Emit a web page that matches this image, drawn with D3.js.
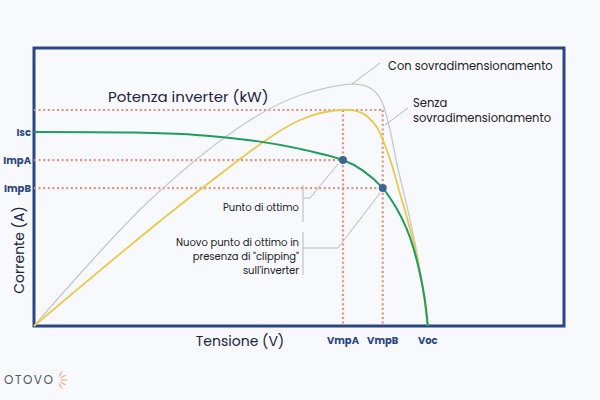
<!DOCTYPE html><html><head><meta charset="utf-8"><script src="https://cdn.jsdelivr.net/npm/d3@7"></script>
<style>body{margin:0;background:#f7f9fc}text{font-family:Poppins,"Open Sans",sans-serif}</style></head><body><svg width="600" height="400"></svg><script>
const greenV=[0,18,30,42,50,58.3,62,65.8,68.5,70.3,71.6,72.8,73.7,74.3];
const greenI=[69.8,69.6,68.8,66.5,63.8,59.7,56,49.6,42,35,28,19,10,0];
const yellowV=[0,31.3,50.2,58.3,62,64.5,66,67.5,69,70.5,72,73.3,74.3];
const yellowI=[0,49,74.1,77.7,76.5,72,66,58,48,38,27,14,0];
const greyV=[0,21.9,40.8,50.2,60,63,65.3,67,68.5,70.5,72.5,73.7,74.3];
const greyI=[0,45.3,74.1,83,87,86,82,72,58,42,24,10,0];
const xTicks=[{l:"VmpA",v:58.3},{l:"VmpB",v:65.8},{l:"Voc",v:74.3}];
const yTicks=[{l:"Isc",v:69.8},{l:"ImpA",v:59.7},{l:"ImpB",v:49.6}];
const Pinv=77.7;
const svg=d3.select("svg");
const x=d3.scaleLinear().domain([0,100]).range([34,564]);
const y=d3.scaleLinear().domain([0,100]).range([326,48]);
const line=d3.line().curve(d3.curveCatmullRom.alpha(0.5));
const pts=(V,I)=>V.map((v,i)=>[x(v),y(I[i])]);
svg.append("rect").attr("x",34).attr("y",48).attr("width",530).attr("height",278).attr("fill","#f7f9fc").attr("stroke","#2b4585").attr("stroke-width",3);
const dot={stroke:"#e8917a","stroke-width":2.2,"stroke-dasharray":"2,2.6"};
function dl(x1,y1,x2,y2){const l=svg.append("line").attr("x1",x1).attr("y1",y1).attr("x2",x2).attr("y2",y2);for(const k in dot)l.attr(k,dot[k]);}
dl(x(0),y(Pinv),x(65.8),y(Pinv));
dl(x(0),y(59.7),x(58.3),y(59.7));
dl(x(0),y(49.6),x(65.8),y(49.6));
dl(x(58.3),y(Pinv),x(58.3),y(0));
dl(x(65.8),y(Pinv),x(65.8),y(0));
svg.append("path").attr("d",line(pts(greyV,greyI))).attr("fill","none").attr("stroke","#c8c8c8").attr("stroke-width",1.3);
svg.append("path").attr("d",line(pts(yellowV,yellowI))).attr("fill","none").attr("stroke","#ecc94b").attr("stroke-width",1.8);
svg.append("path").attr("d",line(pts(greenV,greenI))).attr("fill","none").attr("stroke","#1f9d5a").attr("stroke-width",2);
[[58.3,59.7],[65.8,49.6]].forEach(p=>svg.append("circle").attr("cx",x(p[0])).attr("cy",y(p[1])).attr("r",4).attr("fill","#3c6592"));
const gl=(d)=>svg.append("path").attr("d",d).attr("fill","none").attr("stroke","#aaa").attr("stroke-width",0.8);
gl("M380,63 L352,84");gl("M408,108 L385,125");
gl("M303,185 L303,222 M303,198 L310,198 L338,164");
gl("M303,232 L303,275 M303,248 L338,248 L380,193");
svg.append("text").attr("x",108).attr("y",102).attr("font-size",15).attr("fill","#1c2440").text("Potenza inverter (kW)");
svg.append("text").attr("x",388).attr("y",70).attr("font-size",11.5).attr("fill","#222").text("Con sovradimensionamento");
svg.append("text").attr("x",413).attr("y",107).attr("font-size",11.5).attr("fill","#222").text("Senza");
svg.append("text").attr("x",413).attr("y",122).attr("font-size",11.5).attr("fill","#222").text("sovradimensionamento");
svg.append("text").attr("x",299).attr("y",211).attr("text-anchor","end").attr("font-size",10).attr("fill","#222").text("Punto di ottimo");
["Nuovo punto di ottimo in","presenza di \"clipping\"","sull'inverter"].forEach((t,i)=>svg.append("text").attr("x",299).attr("y",246+i*14).attr("text-anchor","end").attr("font-size",10).attr("fill","#222").text(t));
yTicks.forEach(t=>svg.append("text").attr("x",31).attr("y",y(t.v)+4).attr("text-anchor","end").attr("font-size",10).attr("font-weight","bold").attr("fill","#2b4585").text(t.l));
xTicks.forEach(t=>svg.append("text").attr("x",x(t.v)).attr("y",344).attr("text-anchor","middle").attr("font-size",10).attr("font-weight","bold").attr("fill","#2b4585").text(t.l));
svg.append("text").attr("x",240).attr("y",346).attr("text-anchor","middle").attr("font-size",14).attr("fill","#1c2440").text("Tensione (V)");
svg.append("text").attr("transform","translate(24,250) rotate(-90)").attr("text-anchor","middle").attr("font-size",14).attr("fill","#1c2440").text("Corrente (A)");
svg.append("text").attr("x",4).attr("y",384).attr("font-size",12).attr("letter-spacing",1.5).attr("fill","#555a66").text("OTOVO");
for(let a=-60;a<=60;a+=30){const r=a*Math.PI/180;svg.append("line").attr("x1",57+4*Math.cos(r)).attr("y1",380+4*Math.sin(r)).attr("x2",57+10*Math.cos(r)).attr("y2",380+10*Math.sin(r)).attr("stroke","#f0b48a").attr("stroke-width",1.2);}
</script></body></html>
